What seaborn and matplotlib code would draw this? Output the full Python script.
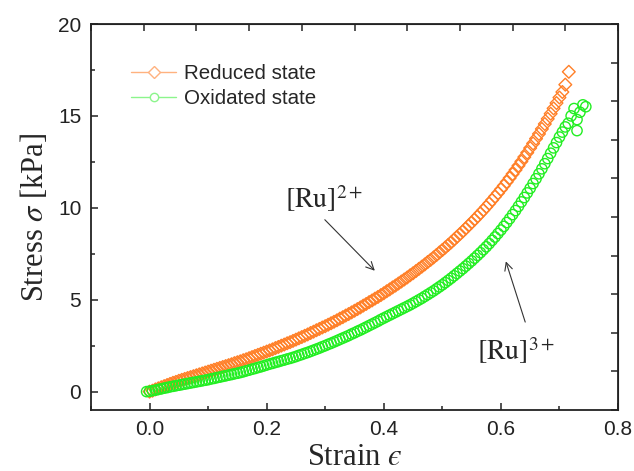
import matplotlib
matplotlib.use("Agg")
import matplotlib.pyplot as plt
from matplotlib.lines import Line2D
from matplotlib.ticker import MultipleLocator
import seaborn as sns

# --- data ---
reduced_strain = [0.000, 0.005, 0.010, 0.015, 0.020, 0.025, 0.030, 0.035, 0.040, 0.045,
                  0.050, 0.055, 0.060, 0.065, 0.070, 0.075, 0.080, 0.085, 0.090, 0.095,
                  0.100, 0.105, 0.110, 0.115, 0.120, 0.125, 0.130, 0.135, 0.140, 0.145,
                  0.150, 0.155, 0.160, 0.165, 0.170, 0.175, 0.180, 0.185, 0.190, 0.195,
                  0.200, 0.205, 0.210, 0.215, 0.220, 0.225, 0.230, 0.235, 0.240, 0.245,
                  0.250, 0.255, 0.260, 0.265, 0.270, 0.275, 0.280, 0.285, 0.290, 0.295,
                  0.300, 0.305, 0.310, 0.315, 0.320, 0.325, 0.330, 0.335, 0.340, 0.345,
                  0.350, 0.355, 0.360, 0.365, 0.370, 0.375, 0.380, 0.385, 0.390, 0.395,
                  0.400, 0.405, 0.410, 0.415, 0.420, 0.425, 0.430, 0.435, 0.440, 0.445,
                  0.450, 0.455, 0.460, 0.465, 0.470, 0.475, 0.480, 0.485, 0.490, 0.495,
                  0.500, 0.505, 0.510, 0.515, 0.520, 0.525, 0.530, 0.535, 0.540, 0.545,
                  0.550, 0.555, 0.560, 0.565, 0.570, 0.575, 0.580, 0.585, 0.590, 0.595,
                  0.600, 0.605, 0.610, 0.615, 0.620, 0.625, 0.630, 0.635, 0.640, 0.645,
                  0.650, 0.655, 0.660, 0.665, 0.670, 0.675, 0.680, 0.685, 0.690, 0.695,
                  0.700, 0.705, 0.710, 0.716]
reduced_stress = [0.00, 0.05, 0.12, 0.18, 0.24, 0.30, 0.36, 0.42, 0.48, 0.53,
                  0.59, 0.64, 0.69, 0.74, 0.79, 0.84, 0.89, 0.94, 0.99, 1.04,
                  1.09, 1.14, 1.19, 1.24, 1.29, 1.34, 1.39, 1.44, 1.49, 1.55,
                  1.60, 1.65, 1.71, 1.76, 1.82, 1.88, 1.94, 2.00, 2.06, 2.12,
                  2.18, 2.24, 2.30, 2.37, 2.43, 2.50, 2.56, 2.63, 2.69, 2.76,
                  2.83, 2.90, 2.97, 3.04, 3.11, 3.19, 3.26, 3.34, 3.41, 3.49,
                  3.56, 3.64, 3.72, 3.80, 3.88, 3.97, 4.05, 4.14, 4.22, 4.31,
                  4.40, 4.49, 4.58, 4.68, 4.77, 4.87, 4.96, 5.06, 5.15, 5.25,
                  5.35, 5.46, 5.56, 5.67, 5.77, 5.88, 5.99, 6.10, 6.21, 6.33,
                  6.44, 6.56, 6.68, 6.80, 6.92, 7.05, 7.17, 7.30, 7.43, 7.57,
                  7.70, 7.84, 7.98, 8.12, 8.27, 8.42, 8.57, 8.72, 8.88, 9.04,
                  9.20, 9.36, 9.53, 9.70, 9.87, 10.05, 10.23, 10.42, 10.61, 10.80,
                  11.00, 11.20, 11.41, 11.62, 11.84, 12.06, 12.29, 12.52, 12.76, 13.00,
                  13.25, 13.50, 13.76, 14.02, 14.29, 14.56, 14.84, 15.12, 15.41, 15.70,
                  16.00, 16.30, 16.70, 17.40]

oxidated_strain = [-0.005,
                   0.000, 0.005, 0.010, 0.015, 0.020, 0.025, 0.030, 0.035, 0.040, 0.045,
                   0.050, 0.055, 0.060, 0.065, 0.070, 0.075, 0.080, 0.085, 0.090, 0.095,
                   0.100, 0.105, 0.110, 0.115, 0.120, 0.125, 0.130, 0.135, 0.140, 0.145,
                   0.150, 0.155, 0.160, 0.165, 0.170, 0.175, 0.180, 0.185, 0.190, 0.195,
                   0.200, 0.205, 0.210, 0.215, 0.220, 0.225, 0.230, 0.235, 0.240, 0.245,
                   0.250, 0.255, 0.260, 0.265, 0.270, 0.275, 0.280, 0.285, 0.290, 0.295,
                   0.300, 0.305, 0.310, 0.315, 0.320, 0.325, 0.330, 0.335, 0.340, 0.345,
                   0.350, 0.355, 0.360, 0.365, 0.370, 0.375, 0.380, 0.385, 0.390, 0.395,
                   0.400, 0.405, 0.410, 0.415, 0.420, 0.425, 0.430, 0.435, 0.440, 0.445,
                   0.450, 0.455, 0.460, 0.465, 0.470, 0.475, 0.480, 0.485, 0.490, 0.495,
                   0.500, 0.505, 0.510, 0.515, 0.520, 0.525, 0.530, 0.535, 0.540, 0.545,
                   0.550, 0.555, 0.560, 0.565, 0.570, 0.575, 0.580, 0.585, 0.590, 0.595,
                   0.600, 0.605, 0.610, 0.615, 0.620, 0.625, 0.630, 0.635, 0.640, 0.645,
                   0.650, 0.655, 0.660, 0.665, 0.670, 0.675, 0.680, 0.685, 0.690, 0.695,
                   0.700, 0.705, 0.710, 0.715, 0.720, 0.725, 0.730, 0.730, 0.735, 0.740, 0.745]
oxidated_stress = [0.00,
                   0.02, 0.05, 0.08, 0.12, 0.15, 0.19, 0.22, 0.26, 0.29, 0.32,
                   0.35, 0.38, 0.41, 0.44, 0.47, 0.50, 0.53, 0.56, 0.59, 0.62,
                   0.65, 0.69, 0.72, 0.76, 0.79, 0.83, 0.86, 0.90, 0.93, 0.97,
                   1.00, 1.04, 1.08, 1.13, 1.17, 1.22, 1.26, 1.31, 1.35, 1.40,
                   1.45, 1.50, 1.54, 1.59, 1.63, 1.68, 1.72, 1.77, 1.81, 1.86,
                   1.91, 1.97, 2.02, 2.08, 2.13, 2.19, 2.25, 2.31, 2.37, 2.44,
                   2.50, 2.57, 2.63, 2.70, 2.77, 2.84, 2.91, 2.98, 3.05, 3.13,
                   3.20, 3.28, 3.35, 3.43, 3.51, 3.59, 3.67, 3.75, 3.83, 3.92,
                   4.00, 4.08, 4.16, 4.24, 4.32, 4.40, 4.48, 4.56, 4.64, 4.72,
                   4.81, 4.90, 4.99, 5.08, 5.18, 5.28, 5.38, 5.48, 5.59, 5.70,
                   5.81, 5.93, 6.05, 6.17, 6.30, 6.43, 6.56, 6.69, 6.83, 6.97,
                   7.11, 7.26, 7.41, 7.56, 7.72, 7.88, 8.05, 8.23, 8.41, 8.60,
                   8.79, 8.99, 9.20, 9.41, 9.63, 9.85, 10.08, 10.32, 10.56, 10.81,
                   11.06, 11.32, 11.58, 11.85, 12.12, 12.40, 12.68, 12.97, 13.26, 13.55,
                   13.85, 14.12, 14.40, 14.60, 15.00, 15.40, 14.20, 14.80, 15.20, 15.60, 15.50]

series_names = ["Reduced state", "Oxidated state"]
annot_labels = [r"$\mathrm{[Ru]}^{2+}$", r"$\mathrm{[Ru]}^{3+}$"]

orange = "#FF7F27"
green = "#22EE22"
orange_light = "#FFB27F"
green_light = "#8CF58C"

sns.set_style("ticks")
plt.rcParams["font.family"] = ["Liberation Sans", "DejaVu Sans"]
plt.rcParams["mathtext.fontset"] = "stix"

fig = plt.figure(figsize=(6.34, 4.71), dpi=100)
ax = fig.add_axes([91 / 634, 61 / 471, 527 / 634, 386 / 471])

sns.scatterplot(x=reduced_strain, y=reduced_stress, ax=ax, marker="D", s=42,
                color=orange, facecolor="none", edgecolor=orange, linewidth=1.0, legend=False)
sns.scatterplot(x=oxidated_strain, y=oxidated_stress, ax=ax, marker="o", s=55,
                color=green, facecolor="none", edgecolor=green, linewidth=1.0, legend=False)
for coll in ax.collections:
    coll.set_facecolor("none")

ax.set_xlim(-0.1, 0.8)
ax.set_ylim(-1, 20)
ax.xaxis.set_major_locator(MultipleLocator(0.2))
ax.xaxis.set_minor_locator(MultipleLocator(0.1))
ax.yaxis.set_major_locator(MultipleLocator(5))
ax.yaxis.set_minor_locator(MultipleLocator(2.5))
ax.tick_params(which="both", direction="in", width=1.1, colors="#222222", labelsize=15)
ax.tick_params(which="major", length=5, pad=7)
ax.tick_params(which="minor", length=3)
for sp in ax.spines.values():
    sp.set_visible(True)
    sp.set_linewidth(1.3)
    sp.set_color("#222222")

# Origin style top/right axes with their own ticks
top = ax.secondary_xaxis("top")
top.set_xticks([-0.1 + 0.09 * i for i in range(11)])
top.tick_params(direction="in", length=5, width=1.1, labeltop=False)
right = ax.secondary_yaxis("right")
right.set_yticks([-1 + 2.1 * i for i in range(11)])
right.tick_params(direction="in", length=5, width=1.1, labelright=False)

ax.set_xlabel("Strain $\u03f5$", family="Liberation Serif", fontsize=22, labelpad=3)
ax.set_ylabel(r"Stress $\sigma$ [kPa]", family="Liberation Serif", fontsize=22, labelpad=6)

handles = [
    Line2D([], [], color=orange_light, lw=1.0, marker="D", markersize=6,
           markerfacecolor="white", markeredgecolor=orange_light),
    Line2D([], [], color=green_light, lw=1.0, marker="o", markersize=6,
           markerfacecolor="white", markeredgecolor=green_light),
]
ax.legend(handles, series_names, loc="upper left", bbox_to_anchor=(0.076, 0.896),
          frameon=False, fontsize=14.8, handlelength=2.2, handletextpad=0.4,
          labelspacing=0.28, borderpad=0, borderaxespad=0)

ax.annotate("", xy=(0.388, 6.47), xytext=(0.296, 9.46),
            arrowprops=dict(arrowstyle="->", color="#333333", lw=0.8, mutation_scale=14))
ax.text(0.231, 10.0, annot_labels[0], fontsize=20, ha="left", va="baseline")
ax.annotate("", xy=(0.607, 7.23), xytext=(0.643, 3.64),
            arrowprops=dict(arrowstyle="->", color="#333333", lw=0.8, mutation_scale=14))
ax.text(0.559, 1.7, annot_labels[1], fontsize=20, ha="left", va="baseline")

fig.savefig("out.png", dpi=100)
